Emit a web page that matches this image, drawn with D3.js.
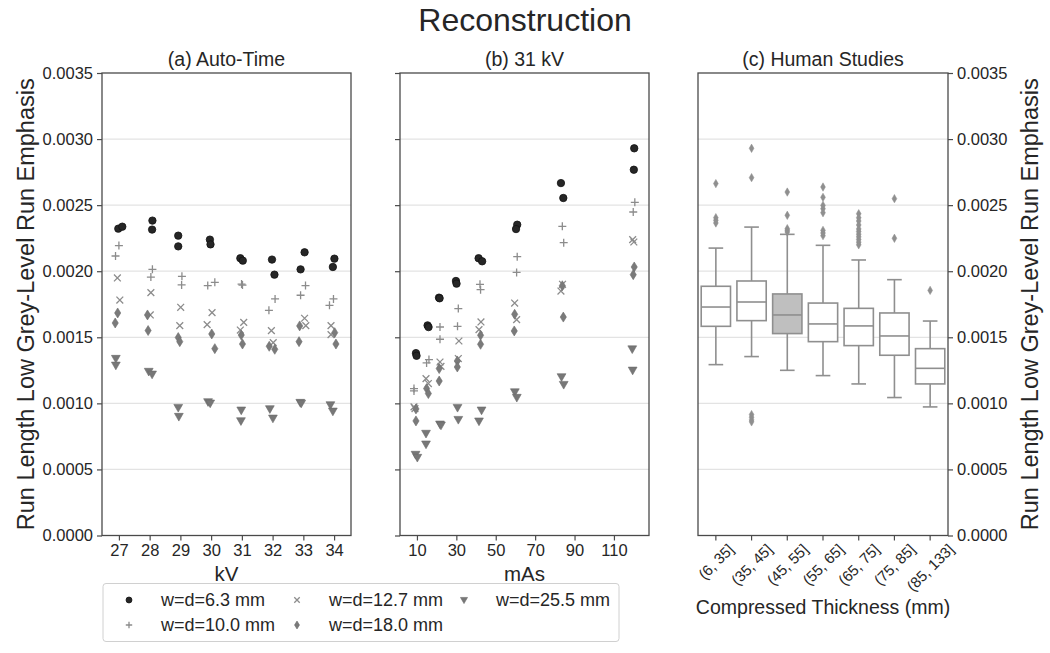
<!DOCTYPE html>
<html><head><meta charset="utf-8">
<script src="https://cdn.jsdelivr.net/npm/d3@7"></script>
<style>
body{margin:0;background:#fff}
text{font-family:"Liberation Sans",Arial,Helvetica,sans-serif;fill:#262626}
</style>
</head><body>
<svg id="chart" width="1050" height="653"></svg>
<script>
// ---------- DATA ----------
const seriesNames = ["w=d=6.3 mm","w=d=10.0 mm","w=d=12.7 mm","w=d=18.0 mm","w=d=25.5 mm"];
const kvTicks = [27,28,29,30,31,32,33,34];
const masTicks = [10,30,50,70,90,110];
const yTicks = [0,0.0005,0.0010,0.0015,0.0020,0.0025,0.0030,0.0035];

// (a) Auto-Time: [kV (with jitter), value]
const auto63 = [[26.98,0.002322],[27.11,0.002337],[28.09,0.002383],[28.08,0.002315],[28.93,0.002269],[28.93,0.002188],[29.96,0.002239],[29.98,0.002203],[30.95,0.002098],[31.03,0.002080],[31.98,0.002088],[32.06,0.001974],[33.04,0.002143],[32.91,0.002014],[34.01,0.002095],[33.96,0.002032]];
const auto100 = [[27.00,0.002194],[26.89,0.002115],[28.09,0.002014],[28.04,0.001956],[29.05,0.001961],[29.04,0.001896],[29.89,0.001891],[30.12,0.001916],[30.99,0.001903],[31.02,0.001895],[32.08,0.001790],[31.88,0.001704],[33.07,0.001891],[32.91,0.001818],[33.98,0.001790],[33.85,0.001742]];
const auto127 = [[26.95,0.001949],[27.03,0.001782],[28.04,0.001838],[28.02,0.001669],[29.01,0.001727],[28.98,0.001588],[30.03,0.001687],[29.87,0.001596],[31.06,0.001613],[30.95,0.001555],[31.96,0.001550],[32.02,0.001460],[33.04,0.001644],[33.08,0.001588],[33.90,0.001588],[33.90,0.001520]];
const auto180 = [[26.96,0.001684],[26.88,0.001608],[27.93,0.001669],[27.95,0.001551],[28.93,0.001498],[28.98,0.001467],[30.02,0.001525],[30.12,0.001414],[30.98,0.001517],[31.02,0.001449],[31.89,0.001432],[32.07,0.001409],[32.88,0.001586],[32.86,0.001467],[34.02,0.001535],[34.06,0.001449]];
const auto255 = [[26.90,0.001339],[26.90,0.001288],[27.97,0.001241],[28.08,0.001220],[28.93,0.000968],[28.95,0.000900],[29.90,0.001011],[29.97,0.001001],[30.98,0.000948],[30.97,0.000867],[31.91,0.000958],[32.01,0.000887],[32.90,0.001006],[32.93,0.001000],[33.88,0.000988],[33.96,0.000940]];

// (b) 31 kV: [mAs (with jitter), value]
const mas63 = [[9.5,0.001380],[9.8,0.001360],[15.4,0.001590],[15.9,0.001577],[21.2,0.001800],[21.5,0.001795],[29.8,0.001926],[30.1,0.001906],[41.3,0.002098],[43.1,0.002075],[60.9,0.002352],[60.3,0.002319],[83.1,0.002667],[84.3,0.002554],[120.3,0.002930],[120.1,0.002768]];
const mas100 = [[8.5,0.001112],[8.5,0.001094],[14.9,0.001306],[16.1,0.001331],[21.7,0.001578],[21.7,0.001485],[31.0,0.001717],[30.6,0.001583],[42.0,0.001901],[42.3,0.001860],[60.9,0.002110],[60.6,0.001991],[83.8,0.002340],[84.5,0.002216],[120.6,0.002521],[119.8,0.002448]];
const mas127 = [[8.5,0.000973],[9.0,0.000960],[14.6,0.001187],[15.8,0.001150],[21.7,0.001313],[22.2,0.001280],[31.3,0.001472],[31.0,0.001339],[42.5,0.001616],[41.5,0.001558],[59.6,0.001759],[60.6,0.001634],[83.9,0.001901],[83.1,0.001850],[119.5,0.002239],[120.1,0.002221]];
const mas180 = [[9.5,0.000958],[9.5,0.000867],[14.9,0.001112],[15.8,0.001074],[21.3,0.001263],[21.3,0.001169],[30.5,0.001321],[30.5,0.001275],[42.3,0.001515],[42.3,0.001447],[59.6,0.001674],[59.4,0.001548],[83.8,0.001890],[84.3,0.001653],[120.3,0.002032],[119.8,0.001974]];
const mas255 = [[9.3,0.000613],[10.2,0.000590],[14.6,0.000772],[14.6,0.000691],[21.7,0.000842],[22.2,0.000834],[30.6,0.000968],[31.0,0.000877],[42.8,0.000948],[41.5,0.000865],[59.7,0.001086],[60.7,0.001044],[83.4,0.001200],[84.5,0.001142],[119.3,0.001411],[119.5,0.001250]];

// (c) Human Studies box plots
const thicknessBins = ["(6, 35]","(35, 45]","(45, 55]","(55, 65]","(65, 75]","(75, 85]","(85, 133]"];
const whiskerLow  = [0.001293,0.001354,0.001250,0.001210,0.001147,0.001044,0.000973];
const q1          = [0.001583,0.001626,0.001528,0.001467,0.001437,0.001364,0.001147];
const median      = [0.001729,0.001767,0.001669,0.001601,0.001586,0.001510,0.001265];
const q3          = [0.001886,0.001926,0.001828,0.001759,0.001719,0.001684,0.001414];
const whiskerHigh = [0.002175,0.002334,0.002279,0.002196,0.002085,0.001936,0.001623];
const outliers = [
  [0.002663,0.002405,0.002385,0.002365],
  [0.002930,0.002708,0.000915,0.000895,0.000875,0.000860],
  [0.002599,0.002423,0.002322,0.002310,0.002297],
  [0.002637,0.002559,0.002498,0.002473,0.002443,0.002309,0.002289,0.002269],
  [0.002435,0.002405,0.002380,0.002350,0.002320,0.002300,0.002280,0.002260,0.002240,0.002220,0.002200],
  [0.002549,0.002249],
  [0.001855]
];
const highlightBin = "(45, 55]";

// ---------- LAYOUT ----------
const svg = d3.select("#chart");
const yTopPx = 73, yBotPx = 535.5;
const frameColor = "#4a4a4a", gridColor = "#e3e3e3";
const y = d3.scaleLinear().domain([0,0.0035]).range([yBotPx, yTopPx]);
const panels = {
  a:{x0:102,x1:351}, b:{x0:400,x1:649}, c:{x0:698,x1:948}
};
const xa = d3.scaleLinear().domain([26.45,34.55]).range([panels.a.x0,panels.a.x1]);
const xb = d3.scaleLinear().domain([1.4,127.8]).range([panels.b.x0,panels.b.x1]);
const xc = d3.scaleBand().domain(thicknessBins).range([panels.c.x0,panels.c.x1]).padding(0);
const fmt = d3.format(".4f");

// Title
svg.append("text").attr("x",525).attr("y",31).attr("text-anchor","middle")
  .style("font-size","32px").text("Reconstruction");

function grid(p){
  svg.append("g").selectAll("line").data(yTicks.slice(1,-1)).join("line")
    .attr("x1",p.x0).attr("x2",p.x1).attr("y1",d=>y(d)).attr("y2",d=>y(d))
    .attr("stroke",gridColor).attr("stroke-width",1.2);
}
function frame(p){
  svg.append("rect").attr("x",p.x0).attr("y",yTopPx).attr("width",p.x1-p.x0).attr("height",yBotPx-yTopPx)
    .attr("fill","none").attr("stroke",frameColor).attr("stroke-width",1.3);
}
function styleAxis(g, fs){
  g.select(".domain").remove();
  g.selectAll(".tick line").attr("stroke",frameColor).attr("stroke-width",1.2);
  g.selectAll(".tick text").style("font-size",fs).attr("fill","#262626");
}
function subtitle(p, t){
  svg.append("text").attr("x",(p.x0+p.x1)/2).attr("y",66).attr("text-anchor","middle")
    .style("font-size","19.5px").text(t);
}

// marker painters
const markerFns = [
  (g,s)=>g.append("circle").attr("r",3.7*s).attr("fill","#262626").attr("stroke","#111").attr("stroke-width",0.8),
  (g,s)=>g.append("path").attr("d",`M${-4*s},0H${4*s}M0,${-4*s}V${4*s}`).attr("stroke","#8c8c8c").attr("stroke-width",1.3).attr("fill","none"),
  (g,s)=>g.append("path").attr("d",`M${-3.4*s},${-3.4*s}L${3.4*s},${3.4*s}M${-3.4*s},${3.4*s}L${3.4*s},${-3.4*s}`).attr("stroke","#8c8c8c").attr("stroke-width",1.3).attr("fill","none"),
  (g,s)=>g.append("path").attr("d",`M0,${-5*s}L${3.1*s},0L0,${5*s}L${-3.1*s},0Z`).attr("fill","#7a7a7a").attr("stroke","#6e6e6e").attr("stroke-width",0.6),
  (g,s)=>g.append("path").attr("d",`M${-4.4*s},${-3.2*s}L${4.4*s},${-3.2*s}L0,${4.5*s}Z`).attr("fill","#777").attr("stroke","#6a6a6a").attr("stroke-width",0.6)
];

function scatter(series, xs){
  series.forEach((data,i)=>{
    const g = svg.append("g");
    data.forEach(d=>{
      const m = g.append("g").attr("transform",`translate(${xs(d[0])},${y(d[1])})`);
      markerFns[i](m,1);
    });
  });
}

// ----- Panel (a)
grid(panels.a);
scatter([auto63,auto100,auto127,auto180,auto255], xa);
frame(panels.a);
styleAxis(svg.append("g").attr("transform",`translate(${panels.a.x0},0)`)
  .call(d3.axisLeft(y).tickValues(yTicks).tickFormat(fmt).tickSize(5).tickPadding(4)),"16.5px");
styleAxis(svg.append("g").attr("transform",`translate(0,${yBotPx})`)
  .call(d3.axisBottom(xa).tickValues(kvTicks).tickSize(5).tickPadding(4)),"16.5px");
subtitle(panels.a,"(a) Auto-Time");
svg.append("text").attr("x",(panels.a.x0+panels.a.x1)/2).attr("y",581).attr("text-anchor","middle")
  .style("font-size","20.5px").text("kV");

// ----- Panel (b)
grid(panels.b);
scatter([mas63,mas100,mas127,mas180,mas255], xb);
frame(panels.b);
styleAxis(svg.append("g").attr("transform",`translate(${panels.b.x0},0)`)
  .call(d3.axisLeft(y).tickValues(yTicks).tickFormat("").tickSize(5)),"16.5px");
styleAxis(svg.append("g").attr("transform",`translate(0,${yBotPx})`)
  .call(d3.axisBottom(xb).tickValues(masTicks).tickSize(5).tickPadding(4)),"16.5px");
subtitle(panels.b,"(b) 31 kV");
svg.append("text").attr("x",(panels.b.x0+panels.b.x1)/2).attr("y",581).attr("text-anchor","middle")
  .style("font-size","20.5px").text("mAs");

// ----- Panel (c)
grid(panels.c);
const boxColor = "#8f8f8f";
const bw = xc.bandwidth()*0.82;
thicknessBins.forEach((cat,i)=>{
  const cx = xc(cat)+xc.bandwidth()/2;
  const g = svg.append("g");
  g.append("line").attr("x1",cx).attr("x2",cx).attr("y1",y(whiskerHigh[i])).attr("y2",y(q3[i])).attr("stroke",boxColor).attr("stroke-width",1.6);
  g.append("line").attr("x1",cx).attr("x2",cx).attr("y1",y(q1[i])).attr("y2",y(whiskerLow[i])).attr("stroke",boxColor).attr("stroke-width",1.6);
  [whiskerHigh[i],whiskerLow[i]].forEach(v=>g.append("line").attr("x1",cx-bw/4).attr("x2",cx+bw/4)
    .attr("y1",y(v)).attr("y2",y(v)).attr("stroke",boxColor).attr("stroke-width",1.6));
  g.append("rect").attr("x",cx-bw/2).attr("width",bw).attr("y",y(q3[i])).attr("height",y(q1[i])-y(q3[i]))
    .attr("fill",cat===highlightBin?"#bfbfbf":"#fff").attr("stroke",boxColor).attr("stroke-width",1.6);
  g.append("line").attr("x1",cx-bw/2).attr("x2",cx+bw/2).attr("y1",y(median[i])).attr("y2",y(median[i])).attr("stroke",boxColor).attr("stroke-width",1.6);
  outliers[i].forEach(v=>{
    g.append("path").attr("transform",`translate(${cx},${y(v)})`)
      .attr("d","M0,-4.2L2.4,0L0,4.2L-2.4,0Z").attr("fill",boxColor).attr("stroke",boxColor).attr("stroke-width",0.5);
  });
});
frame(panels.c);
styleAxis(svg.append("g").attr("transform",`translate(${panels.c.x1},0)`)
  .call(d3.axisRight(y).tickValues(yTicks).tickFormat(fmt).tickSize(5).tickPadding(4)),"16.5px");
const gxc = svg.append("g").attr("transform",`translate(0,${yBotPx})`)
  .call(d3.axisBottom(xc).tickSize(5).tickFormat(""));
styleAxis(gxc,"15px");
thicknessBins.forEach(cat=>{
  const cx = xc(cat)+xc.bandwidth()/2;
  const t = svg.append("text").style("font-size","15px").attr("text-anchor","middle")
    .attr("dominant-baseline","central").text(cat);
  const w = t.node().getComputedTextLength();
  const h = 14;
  const ext = (w+h)*Math.SQRT1_2;
  const cy = yBotPx + 6 + ext/2;
  t.attr("x",cx).attr("y",cy).attr("transform",`rotate(-45,${cx},${cy})`);
});
subtitle(panels.c,"(c) Human Studies");
svg.append("text").attr("x",(panels.c.x0+panels.c.x1)/2).attr("y",614).attr("text-anchor","middle")
  .style("font-size","19.5px").text("Compressed Thickness (mm)");

// y labels
const yLabel = "Run Length Low Grey-Level Run Emphasis";
[26,1030].forEach(xp=>{
  svg.append("text").attr("transform",`translate(${xp},${(yTopPx+yBotPx)/2}) rotate(-90)`)
    .attr("text-anchor","middle").attr("dy","0.35em").style("font-size","23.5px").text(yLabel);
});

// legend
const lg = svg.append("g");
lg.append("rect").attr("x",103).attr("y",583.5).attr("width",516).attr("height",58)
  .attr("rx",3).attr("fill","#fff").attr("stroke","#d0d0d0").attr("stroke-width",1);
const legendPos = [[129,600],[129,625],[297,600],[297,625],[464,600]];
seriesNames.forEach((name,i)=>{
  const [lx,ly] = legendPos[i];
  const m = lg.append("g").attr("transform",`translate(${lx},${ly})`);
  markerFns[i](m,0.8);
  lg.append("text").attr("x",lx+32).attr("y",ly).attr("dy","0.35em").style("font-size","18px").text(name);
});
</script>
</body></html>
